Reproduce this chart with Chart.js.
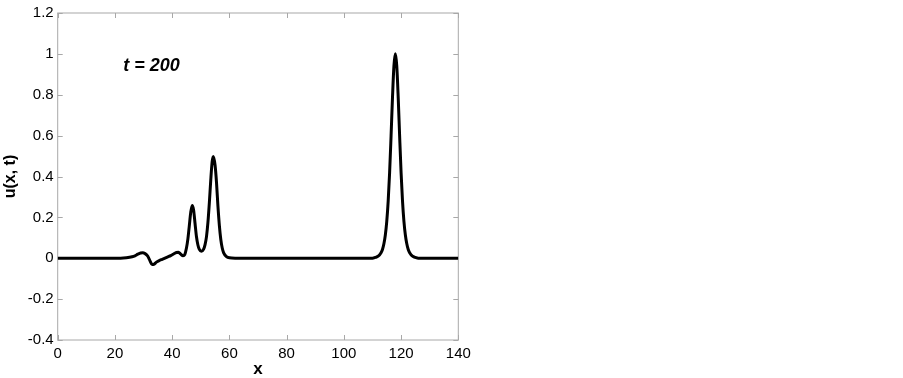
<!DOCTYPE html>
<html>
<head>
<meta charset="utf-8">
<script src="https://cdn.jsdelivr.net/npm/chart.js@4"></script>
<style>
  html, body { margin: 0; padding: 0; background: #fff; }
  #wrap { width: 903px; height: 378px; }
</style>
</head>
<body>
<div id="wrap"><canvas id="chart" width="903" height="378"></canvas></div>
<script>
// u(x, t) at t = 200
const xs = [
  0, 20, 22, 24, 26, 27, 28, 29, 29.7, 30.5, 31.5, 32.3, 33, 33.6, 34.5, 35.5, 36.5, 37.5, 38.5, 39.5,
  40.5, 41.5, 42.2, 43, 43.8, 44.4, 45, 45.5, 46, 46.5, 47, 47.5, 48, 48.5, 49, 49.5, 50.2, 51, 51.5, 52,
  52.5, 53, 53.5, 54, 54.4, 55, 55.5, 56, 56.5, 57, 57.5, 58, 59, 60, 62,
  110, 111, 112, 113, 113.5, 114, 114.5, 115, 115.5, 116, 116.5, 117, 117.5, 118,
  118.5, 119, 119.5, 120, 120.5, 121, 121.5, 122, 122.5, 123, 124, 125, 126, 140,
];
const ys = [
  0, 0, 0, 0.002, 0.007, 0.012, 0.02, 0.026, 0.027, 0.023, 0.01, -0.014, -0.031, -0.03, -0.019, -0.011, -0.005, 0.001, 0.007, 0.013,
  0.021, 0.028, 0.029, 0.02, 0.012, 0.018, 0.05, 0.095, 0.16, 0.225, 0.258, 0.235, 0.17, 0.105, 0.065, 0.043, 0.034, 0.045, 0.067, 0.106,
  0.175, 0.272, 0.385, 0.475, 0.498, 0.455, 0.37, 0.255, 0.16, 0.092, 0.05, 0.026, 0.008, 0.002, 0,
  0, 0.004, 0.01, 0.027, 0.043, 0.071, 0.114, 0.181, 0.281, 0.42, 0.597, 0.786, 0.94, 1.0,
  0.94, 0.786, 0.597, 0.42, 0.281, 0.181, 0.114, 0.071, 0.043, 0.027, 0.01, 0.004, 0, 0,
];

const xTicks = [0, 20, 40, 60, 80, 100, 120, 140];
const yTicks = [-0.4, -0.2, 0, 0.2, 0.4, 0.6, 0.8, 1, 1.2];
const timeLabel = 't = 200';

const FONT = '"Liberation Sans", Arial, sans-serif';
const FRAME = '#a8a8a8';

// frame + inward ticks on all four sides, plus the t label
const framePlugin = {
  id: 'frame',
  beforeDatasetsDraw(chart) {
    const { ctx, chartArea: a, scales } = chart;
    ctx.save();
    ctx.strokeStyle = FRAME;
    ctx.lineWidth = 1;
    ctx.strokeRect(a.left, a.top, a.right - a.left, a.bottom - a.top);
    ctx.beginPath();
    xTicks.forEach((v) => {
      const px = Math.round(scales.x.getPixelForValue(v)) + 0.5;
      ctx.moveTo(px, a.bottom);
      ctx.lineTo(px, a.bottom - 5);
      ctx.moveTo(px, a.top);
      ctx.lineTo(px, a.top + 5);
    });
    yTicks.forEach((v) => {
      const py = Math.round(scales.y.getPixelForValue(v)) + 0.5;
      ctx.moveTo(a.left, py);
      ctx.lineTo(a.left + 5, py);
      ctx.moveTo(a.right, py);
      ctx.lineTo(a.right - 5, py);
    });
    ctx.stroke();
    ctx.restore();
  },
  afterDraw(chart) {
    const { ctx, scales } = chart;
    ctx.save();
    ctx.fillStyle = '#000';
    ctx.font = `italic bold 18px ${FONT}`;
    ctx.textAlign = 'center';
    ctx.textBaseline = 'middle';
    ctx.fillText(timeLabel, scales.x.getPixelForValue(32.8), scales.y.getPixelForValue(0.94));
    ctx.restore();
  },
};

const points = xs.map((x, i) => ({ x, y: ys[i] }));

new Chart(document.getElementById('chart'), {
  type: 'line',
  data: {
    datasets: [
      {
        data: points,
        borderColor: '#000',
        borderWidth: 3,
        pointRadius: 0,
        cubicInterpolationMode: 'monotone',
        fill: false,
      },
    ],
  },
  options: {
    responsive: false,
    animation: false,
    devicePixelRatio: 1,
    layout: {
      padding: { left: 0, right: 444.7, top: 9.3, bottom: 0 },
    },
    plugins: {
      legend: { display: false },
      tooltip: { enabled: false },
    },
    scales: {
      x: {
        type: 'linear',
        min: 0,
        max: 140,
        afterFit(scale) { scale.height = 38; },
        afterBuildTicks(scale) { scale.ticks = xTicks.map((v) => ({ value: v })); },
        grid: { display: false, drawTicks: false },
        border: { display: false },
        ticks: {
          color: '#000',
          padding: 5,
          maxRotation: 0,
          font: { family: FONT, size: 15 },
        },
        title: {
          display: true,
          text: 'x',
          color: '#000',
          padding: { top: 0, bottom: 0 },
          font: { family: FONT, size: 17, weight: 'bold', lineHeight: 1 },
        },
      },
      y: {
        type: 'linear',
        min: -0.4,
        max: 1.2,
        afterFit(scale) { scale.width = 57.7; },
        afterBuildTicks(scale) { scale.ticks = yTicks.map((v) => ({ value: v })); },
        grid: { display: false, drawTicks: false },
        border: { display: false },
        ticks: {
          color: '#000',
          padding: 4,
          font: { family: FONT, size: 15 },
          callback: (v) => String(Number(Number(v).toFixed(1))),
        },
        title: {
          display: true,
          text: 'u(x, t)',
          color: '#000',
          padding: { top: 1, bottom: 0 },
          font: { family: FONT, size: 16, weight: 'bold' },
        },
      },
    },
  },
  plugins: [framePlugin],
});
</script>
</body>
</html>
